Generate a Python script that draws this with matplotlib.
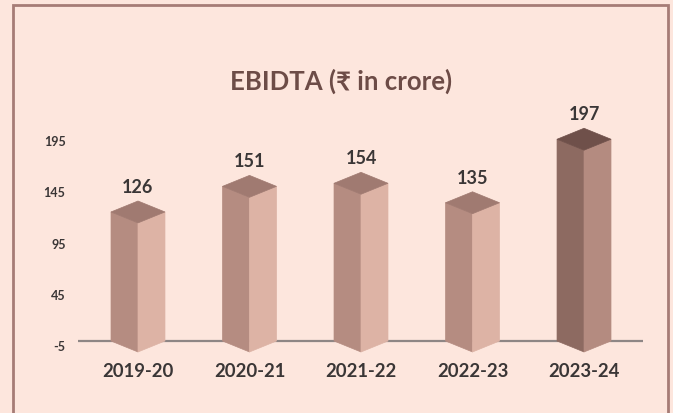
import matplotlib
matplotlib.use("Agg")
import matplotlib.pyplot as plt
from matplotlib.patches import Polygon, Rectangle

categories = ["2019-20", "2020-21", "2021-22", "2022-23", "2023-24"]
values = [126, 151, 154, 135, 197]
yticks = [-5, 45, 95, 145, 195]
title = "EBIDTA (\u20b9 in crore)"

plt.rcParams['font.family'] = ['Lato', 'DejaVu Sans']

BG = "#FDE6DD"
W, H = 673, 413
fig = plt.figure(figsize=(W / 100, H / 100), dpi=100, facecolor=BG)

# axes placement in pixel terms
left_px, right_px = 78, 643
top_px, bot_px = 120.8, 353.3
ax = fig.add_axes([left_px / W, 1 - bot_px / H, (right_px - left_px) / W, (bot_px - top_px) / H])
ax.set_facecolor("none")
ax.set_xlim(-0.538, 4.529)
ax.set_ylim(-12, 215)

half_w = 0.242
depth = 10.7

normal = dict(left="#B58C81", right="#DDB3A5", top="#A07A71")
last = dict(left="#8D6A61", right="#B48B80", top="#6F504A")

ax.axhline(0, color="#8E8685", lw=1.6, zorder=1)

for i, v in enumerate(values):
    c = last if i == len(values) - 1 else normal
    lf = [(i - half_w, 0), (i, -depth), (i, v - depth), (i - half_w, v)]
    rf = [(i, -depth), (i + half_w, 0), (i + half_w, v), (i, v - depth)]
    tp = [(i - half_w, v), (i, v - depth), (i + half_w, v), (i, v + depth)]
    ax.add_patch(Polygon(lf, closed=True, facecolor=c["left"], edgecolor=c["left"], lw=0.5, zorder=2))
    ax.add_patch(Polygon(rf, closed=True, facecolor=c["right"], edgecolor=c["right"], lw=0.5, zorder=2))
    ax.add_patch(Polygon(tp, closed=True, facecolor=c["top"], edgecolor=c["top"], lw=0.5, zorder=3))
    ax.annotate(str(v), (i, v + depth), xytext=(0, 5), textcoords="offset pixels",
                ha="center", va="bottom", fontsize=13, fontweight="bold", color="#3A3636")

ax.set_xticks(range(len(categories)))
ax.set_xticklabels(categories, fontsize=13.3, fontweight="bold", color="#3A3636")
ax.set_yticks(yticks)
ax.set_yticklabels([str(t) for t in yticks], fontsize=9, fontweight="bold", color="#3A3636")
ax.tick_params(axis="x", length=0, pad=7)
ax.tick_params(axis="y", length=0, pad=9)
for s in ax.spines.values():
    s.set_visible(False)

fig.text(341 / W, 1 - 81 / H, title, ha="center", va="center", fontsize=18.5,
         fontweight="bold", color="#6D4C47")

fig.patches.append(Rectangle((12.5 / W, -0.02), (668 - 12.5) / W, 1.02 - 4.5 / H,
                             transform=fig.transFigure, fill=False, edgecolor="#A67C76", lw=2))

fig.savefig("out.png", dpi=100, facecolor=BG)
